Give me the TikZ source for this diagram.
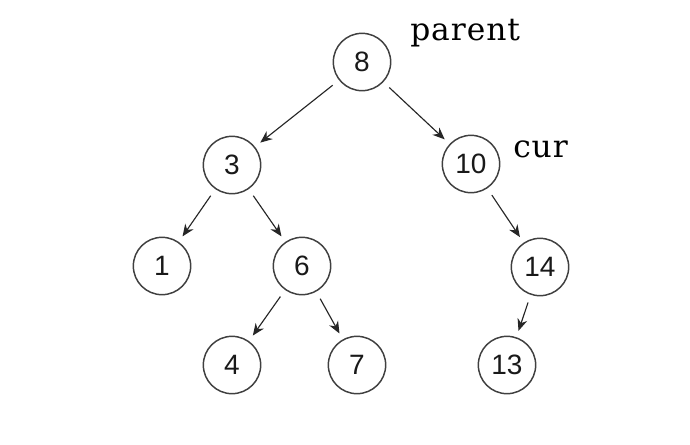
\documentclass[tikz,border=0pt]{standalone}
\usepackage{fontspec}
\setmainfont{Liberation Sans}
\newfontfamily\labfont[LetterSpace=3]{DejaVu Serif}
\usetikzlibrary{arrows.meta}
\begin{document}
\begin{tikzpicture}[x=0.75pt,y=-0.75pt,
  tnode/.style={circle,draw=black!75,line width=1.1pt,minimum size=43pt,inner sep=0pt,font=\fontsize{21}{24}\selectfont,text=black!90},
  edge/.style={draw=black!85,line width=0.85pt,-{Stealth[length=9pt,width=7.5pt]},shorten <=6pt,shorten >=5pt},
  lab/.style={anchor=base west,inner sep=0pt,font=\labfont\fontsize{23.5}{28}\selectfont,text=black}]
\useasboundingbox[fill=white] (0,0) rectangle (690,444);
\node[tnode] (n8) at (362,62) {8};
\node[tnode] (n3) at (232,165) {3};
\node[tnode] (n10) at (471,164) {10};
\node[tnode] (n1) at (162,266) {1};
\node[tnode] (n6) at (302,266) {6};
\node[tnode] (n14) at (540,267) {14};
\node[tnode] (n4) at (232,365) {4};
\node[tnode] (n7) at (357,365) {7};
\node[tnode] (n13) at (507,365) {13};
\node[lab] (lp) at (410,40) {parent};
\node[lab] (lc) at (513,157) {cur};
\draw[edge] (n8) -- (n3);
\draw[edge] (n8) -- (n10);
\draw[edge] (n3) -- (n1);
\draw[edge] (n3) -- (n6);
\draw[edge] (n10) -- (n14);
\draw[edge] (n6) -- (n4);
\draw[edge] (n6) -- (n7);
\draw[edge] (n14) -- (n13);
\end{tikzpicture}
\end{document}
